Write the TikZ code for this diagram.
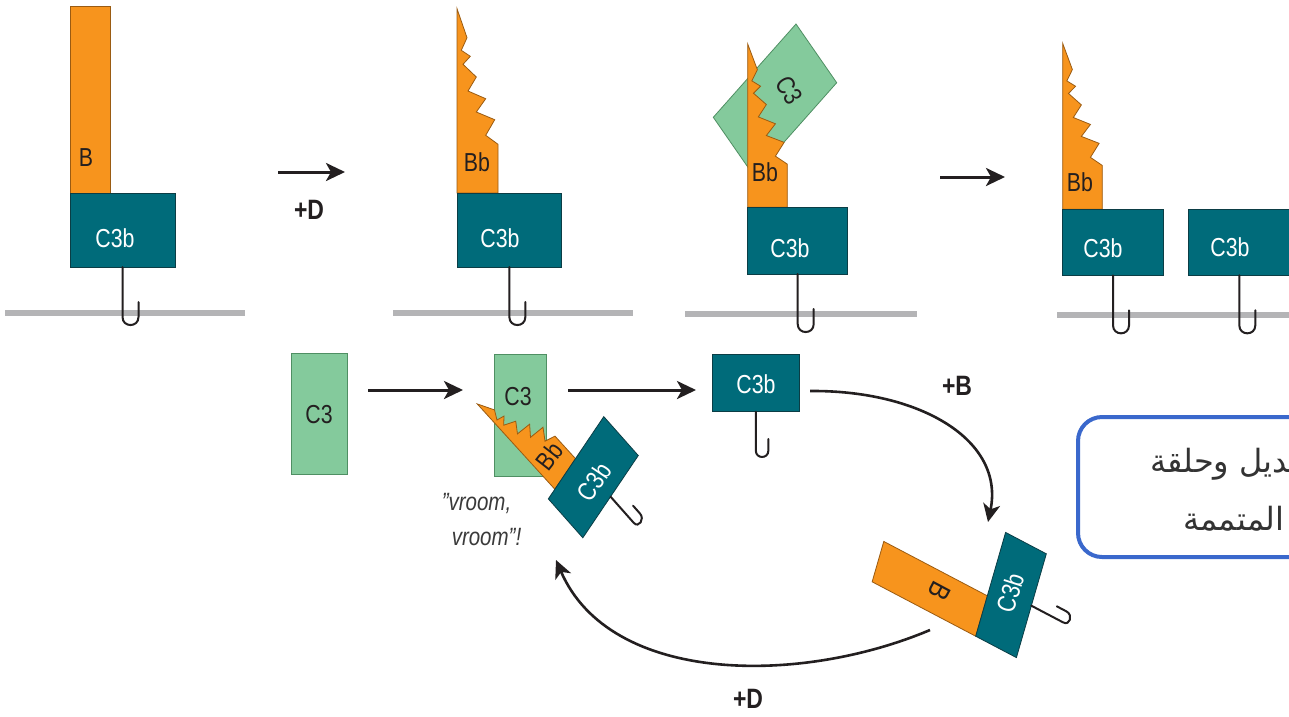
\documentclass[tikz,border=0pt]{standalone}
\usepackage{fontspec}
\setmainfont{Liberation Sans}[FakeStretch=0.82]
\newfontfamily\arabicfont[Script=Arabic]{DejaVu Sans}
\TeXXeTstate=1
\usetikzlibrary{arrows.meta}

\definecolor{bborange}{HTML}{F7941D}
\definecolor{bbedge}{HTML}{9A5B12}
\definecolor{tealfill}{HTML}{006B7A}
\definecolor{tealedge}{HTML}{0B3D45}
\definecolor{c3green}{HTML}{84CA9C}
\definecolor{c3edge}{HTML}{4F8F63}
\definecolor{membranegray}{HTML}{B4B4B6}
\definecolor{ink}{HTML}{231F20}
\definecolor{vroomgray}{HTML}{3A3A3A}
\definecolor{arabgray}{HTML}{333333}
\definecolor{boxblue}{HTML}{3A68CC}

% Bb fragment: straight left edge, toothed right edge, base at the origin
\tikzset{
  pics/bbtooth/.style={code={
    \path[bbshape] (0,0) -- (0,-184.3) -- (10,-155.3) -- (4.3,-142.7) -- (13.3,-136.7)
      -- (6,-128.7) -- (19.3,-116) -- (11,-102) -- (28.7,-94.3) -- (19.3,-81)
      -- (37.7,-73.3) -- (28.7,-57.7) -- (41,-48.7) -- (41,0) -- cycle;}},
  pics/anchorhook/.style={code={
    \draw[hookline] (0,0) -- (0,50) .. controls (0,60.7) and (16,60.7) .. (16,50) -- (16,35);}},
}
\newcommand{\dq}{\symbol{34}}

\begin{document}
\begin{tikzpicture}[x=1pt,y=-1pt,
  tealbox/.style={fill=tealfill, draw=tealedge, line width=0.8pt, inner sep=0pt, outer sep=0pt},
  orangebox/.style={fill=bborange, draw=bbedge, line width=0.8pt, inner sep=0pt, outer sep=0pt},
  greenbox/.style={fill=c3green, draw=c3edge, line width=0.8pt, inner sep=0pt, outer sep=0pt},
  bbshape/.style={fill=bborange, draw=bbedge, line width=0.8pt, line join=miter},
  tealshape/.style={fill=tealfill, draw=tealedge, line width=0.8pt},
  orangeshape/.style={fill=bborange, draw=bbedge, line width=0.8pt},
  greenshape/.style={fill=c3green, draw=c3edge, line width=0.8pt},
  hookline/.style={draw=ink, line width=2pt, line cap=round},
  membrane/.style={draw=membranegray, line width=6.5pt},
  darklbl/.style={text=ink, font=\fontsize{26}{28}\selectfont, inner sep=0pt},
  whitelbl/.style={text=white, font=\fontsize{26}{28}\selectfont, inner sep=0pt},
  pluslbl/.style={text=ink, font=\bfseries\fontsize{28}{30}\selectfont, inner sep=0pt},
  vroomlbl/.style={text=vroomgray, font=\itshape\fontsize{25}{27}\selectfont, inner sep=0pt},
  arablbl/.style={text=arabgray, font=\arabicfont\fontsize{32}{36}\selectfont, inner sep=0pt},
  flow/.style={draw=ink, line width=3pt, -{Stealth[length=19pt, width=18pt, inset=5pt]}},
  flowcurve/.style={draw=ink, line width=2.6pt, -{Stealth[length=18pt, width=17pt, inset=5pt]}},
]
\useasboundingbox (0,0) rectangle (1289,716);
\fill[white] (0,0) rectangle (1289,716);
\clip (0,0) rectangle (1289,716);

% ---------- top row, panel 1: B bound to C3b ----------
\draw[membrane] (5,313) -- (245,313);
\node[orangebox, minimum width=40.7, minimum height=187] (p1b) at (90.35,99.5) {};
\node[tealbox, minimum width=105, minimum height=74] (p1c3b) at (122.5,230) {};
\pic at (p1c3b.south) {anchorhook};
\node[darklbl] (p1bl) at (86,158) {B};
\node[whitelbl] (p1c3bl) at (115,238) {C3b};

\coordinate (d1a) at (278,172);
\coordinate (d1b) at (345,172);
\draw[flow] (d1a) -- (d1b);
\node[pluslbl] (plusd1) at (309,210) {+D};

% ---------- panel 2: Bb on C3b ----------
\draw[membrane] (393,313) -- (633,313);
\pic at (457,193) {bbtooth};
\node[tealbox, minimum width=104.7, minimum height=74] (p2c3b) at (509.35,230) {};
\pic at (p2c3b.south) {anchorhook};
\node[darklbl] (p2bbl) at (477,162) {Bb};
\node[whitelbl] (p2c3bl) at (500,238) {C3b};

% ---------- panel 3: C3 engaged by Bb ----------
\draw[membrane] (685,314) -- (917,314);
\path[greenshape] (713.3,117.3) -- (796,24) -- (836.7,82.7) -- (754,176) -- cycle;
\node[darklbl, rotate=-58] (p3c3l) at (789,90) {C3};
\pic[xscale=0.966, yscale=0.886] at (747.7,207.3) {bbtooth};
\node[tealbox, minimum width=100, minimum height=66.7] (p3c3b) at (797.7,240.65) {};
\pic at (p3c3b.south) {anchorhook};
\node[darklbl] (p3bbl) at (765,172) {Bb};
\node[whitelbl] (p3c3bl) at (790,248) {C3b};

\coordinate (d2a) at (940,177);
\coordinate (d2b) at (1005,177);
\draw[flow] (d2a) -- (d2b);

% ---------- panel 4: new C3b deposited ----------
\draw[membrane] (1057,315) -- (1295,315);
\pic[xscale=0.966, yscale=0.9] at (1062.7,209.3) {bbtooth};
\node[tealbox, minimum width=100.6, minimum height=66] (p4c3b) at (1113,242.3) {};
\node[tealbox, minimum width=102, minimum height=66] (p4new) at (1239.3,242.3) {};
\pic at (p4c3b.south) {anchorhook};
\pic at (p4new.south) {anchorhook};
\node[darklbl] (p4bbl) at (1080,182) {Bb};
\node[whitelbl] (p4c3bl) at (1103,248) {C3b};
\node[whitelbl] (p4newl) at (1230,247) {C3b};

% ---------- bottom row: amplification loop ----------
\node[greenbox, minimum width=56, minimum height=121] (c3free) at (319,413.5) {};
\node[darklbl] (c3freel) at (319,415) {C3};

\coordinate (l1a) at (368,390);
\coordinate (l1b) at (463,390);
\draw[flow] (l1a) -- (l1b);

% C3 being cleaved by the convertase
\node[greenbox, minimum width=52.7, minimum height=122.7] (c3cut) at (520.3,415.3) {};
\node[darklbl] (c3cutl) at (518,397) {C3};
\begin{scope}[cm={0.559,0.829,-0.673,0.740,(554.9,489.3)}]
  \pic[transform shape, xscale=0.9, yscale=0.626] at (0,0) {bbtooth};
\end{scope}
\begin{scope}[cm={0.559,0.829,-0.663,0.748,(593.3,477.2)}]
  \path[tealshape] (-49.6,-26) rectangle (49.6,26);
  \pic[transform shape, scale=0.7] at (0,26) {anchorhook};
\end{scope}
\node[darklbl, rotate=52] (convbbl) at (549,456) {Bb};
\node[whitelbl, rotate=56] (convc3bl) at (594,482) {C3b};
\node[vroomlbl] (vroom1) at (476.5,503) {\dq vroom,};
\node[vroomlbl] (vroom2) at (486.5,537) {vroom\dq!};

\coordinate (l2a) at (568,390);
\coordinate (l2b) at (696,390);
\draw[flow] (l2a) -- (l2b);

% freshly made C3b
\node[tealbox, minimum width=86.3, minimum height=57.7] (c3bnew) at (755.85,382.85) {};
\pic[scale=0.78] at (c3bnew.south) {anchorhook};
\node[whitelbl] (c3bnewl) at (756,384) {C3b};

\coordinate (bstart) at (810,391);
\coordinate (bend) at (988,522);
\draw[flowcurve] (bstart) .. controls (920,390) and (1005,440) .. (bend);
\node[pluslbl] (plusb) at (957,386) {+B};

% B bound to C3b, tilted
\begin{scope}[cm={0.277,0.961,-0.885,0.465,(1011,595)}]
  \path[orangeshape] (-54,-23) rectangle (-12,-140);
  \path[tealshape] (-54,-23) rectangle (54,23);
  \pic[transform shape, scale=0.72] at (0,23) {anchorhook};
\end{scope}
\node[darklbl, rotate=-118, font=\fontsize{29}{30}\selectfont] (tiltbl) at (940,591) {B};
\node[whitelbl, rotate=72] (tiltc3bl) at (1010,593) {C3b};

\coordinate (dstart) at (930,630);
\coordinate (dend) at (556,560);
\draw[flowcurve] (dstart) .. controls (800,685) and (610,685) .. (dend);
\node[pluslbl] (plusd2) at (748,699) {+D};

% ---------- caption box ----------
\draw[draw=boxblue, line width=4pt, rounded corners=24pt] (1078,417) rectangle (1330,557);
\node[arablbl, anchor=west] (ar1) at (1150,464) {\beginR البديل وحلقة\endR};
\node[arablbl, anchor=west] (ar2) at (1183,519) {\beginR المتممة\endR};
\end{tikzpicture}
\end{document}
